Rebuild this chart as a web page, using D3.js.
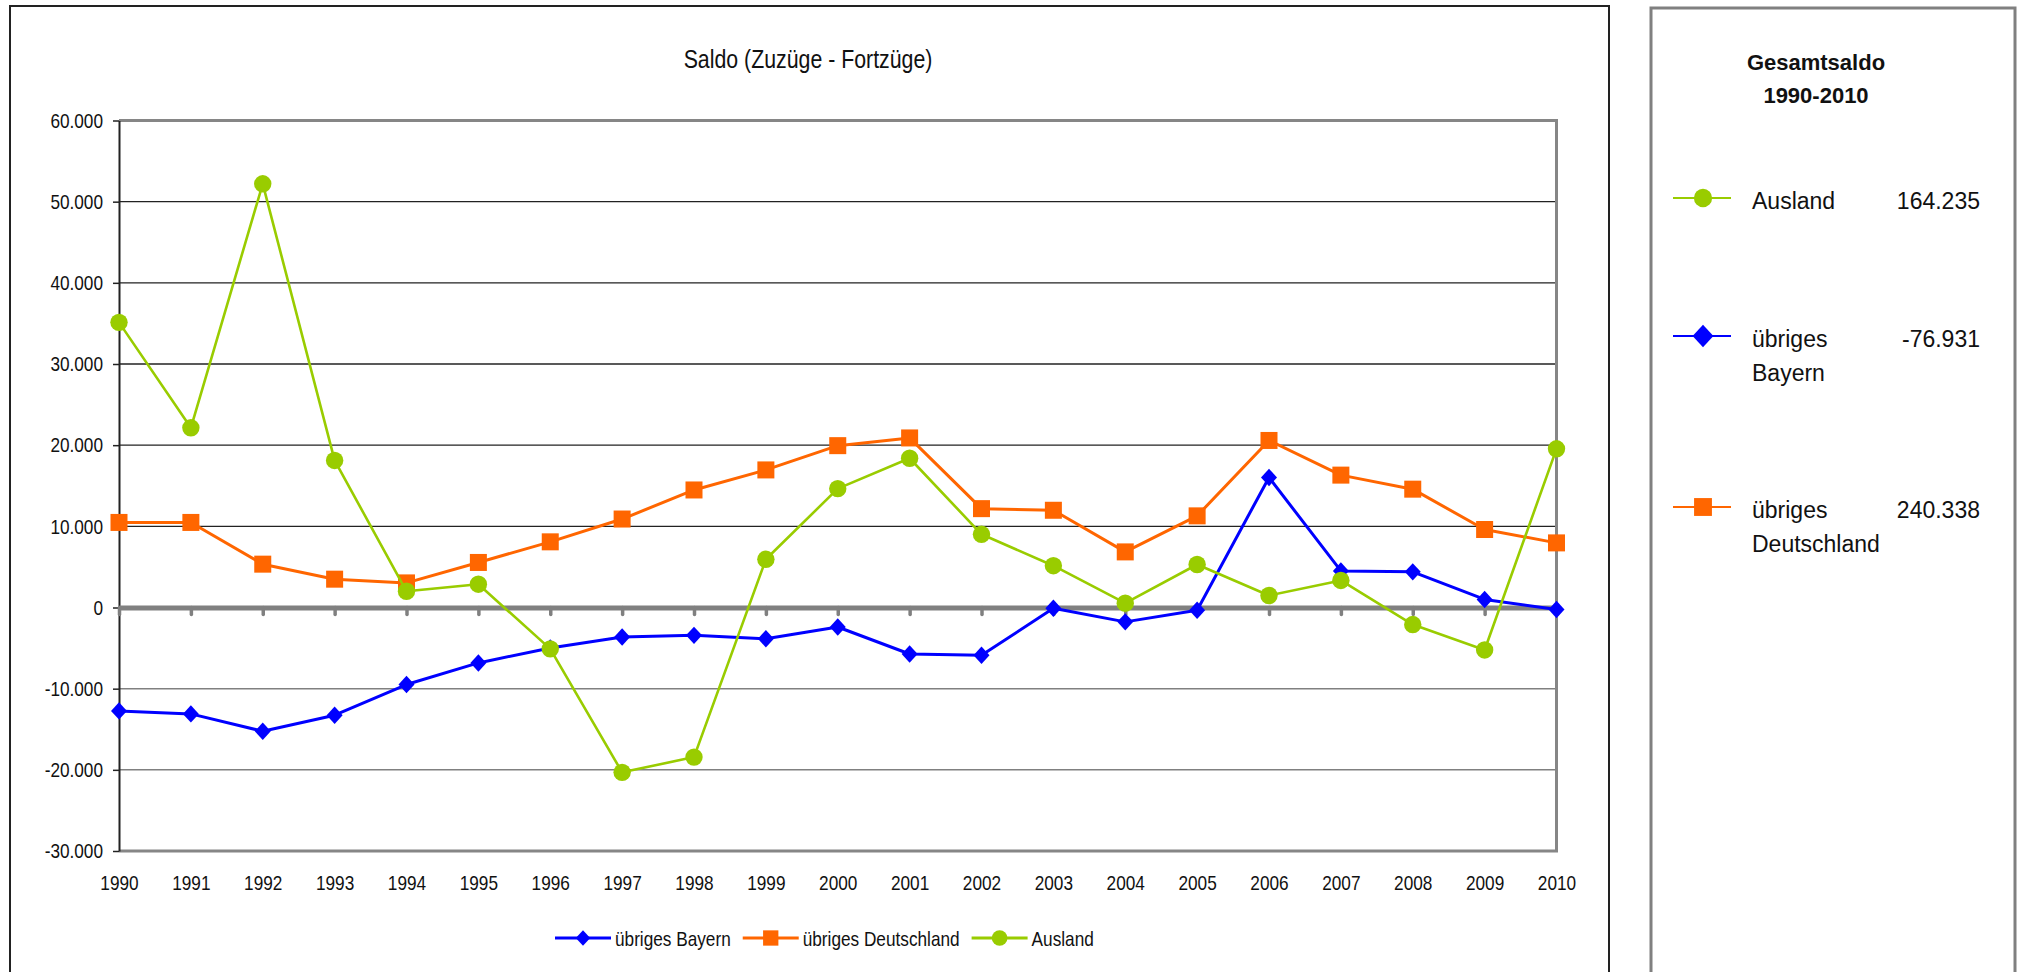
<!DOCTYPE html>
<html>
<head>
<meta charset="utf-8">
<script src="https://cdn.jsdelivr.net/npm/d3@7"></script>
<style>
  body { margin: 0; background: #fff; }
  svg { display: block; }
  text { font-family: "Liberation Sans", Arial, sans-serif; }
</style>
</head>
<body>
<script>
// Wanderungssaldo 1990-2010
const years = [1990, 1991, 1992, 1993, 1994, 1995, 1996, 1997, 1998, 1999, 2000,
     2001, 2002, 2003, 2004, 2005, 2006, 2007, 2008, 2009, 2010];

const bayern = [-12740, -13110, -15250, -13270, -9490, -6830, -4980, -3640, -3430, -3850, -2400,
     -5730, -5890, -100, -1770, -330, 16020, 4510, 4390, 990, -250];
const deutschland = [10480, 10480, 5340, 3490, 3030, 5550, 8090, 10900, 14480, 16950, 19940,
     20890, 12180, 11980, 6850, 11290, 20580, 16310, 14580, 9610, 7960];
const ausland = [35130, 22140, 52200, 18120, 2000, 2870, -5100, -20310, -18430, 5940, 14640,
     18390, 9020, 5150, 530, 5300, 1480, 3330, -2100, -5230, 19550];

const yTicks = [-30000, -20000, -10000, 0, 10000, 20000, 30000, 40000, 50000, 60000];

const seriesNames = ['übriges Bayern', 'übriges Deutschland', 'Ausland'];
const seriesColors = ['#0000ff', '#ff6600', '#99cc00'];
const seriesMarkers = ['diamond', 'square', 'circle'];

// Gesamtsaldo panel (order as shown on the right)
const totalNames = [['Ausland'], ['übriges', 'Bayern'], ['übriges', 'Deutschland']];
const totalValues = [164235, -76931, 240338];
const totalIndex = [2, 0, 1];

const de = d3.formatLocale({decimal: ',', thousands: '.', grouping: [3], currency: ['', ' €'], minus: '-'});
const fmt = de.format(',d');

// no narrow font installed, so squeeze Liberation Sans
const NARROW = 0.82;

const W = 2022, H = 972;
const svg = d3.select('body').append('svg')
    .attr('width', W)
    .attr('height', H);

// frames
svg.append('rect')
    .attr('x', 10).attr('y', 6)
    .attr('width', 1599).attr('height', 1000)
    .attr('fill', 'none')
    .attr('stroke', '#222')
    .attr('stroke-width', 2);

svg.append('rect')
    .attr('x', 1651).attr('y', 8)
    .attr('width', 364).attr('height', 1000)
    .attr('fill', 'none')
    .attr('stroke', '#808080')
    .attr('stroke-width', 3);

const x = d3.scalePoint()
    .domain(years)
    .range([119, 1556.5]);

const y = d3.scaleLinear()
    .domain([-30000, 60000])
    .range([851, 120.5]);

// title
svg.append('text')
    .attr('transform', `translate(808,68) scale(${NARROW},1)`)
    .attr('text-anchor', 'middle')
    .style('font-size', '26px')
    .attr('fill', '#111')
    .text('Saldo (Zuzüge - Fortzüge)');

// gridlines
svg.append('g').selectAll('line')
    .data(yTicks.filter(d => d != 0 && d != -30000 && d != 60000))
    .enter()
  .append('line')
    .attr('x1', x(years[0])).attr('x2', x(years[years.length - 1]))
    .attr('y1', d => y(d)).attr('y2', d => y(d))
    .attr('stroke', d => d > 0 ? '#222' : '#808080')
    .attr('stroke-width', d => d > 0 ? 1.3 : 1.5);

// plot border (top, right, bottom)
svg.append('path')
    .attr('d', `M${x(1990)},${y(60000)}H${x(2010)}V${y(-30000)}H${x(1990)}`)
    .attr('fill', 'none')
    .attr('stroke', '#868686')
    .attr('stroke-width', 3);

// y axis
const yAxis = svg.append('g')
    .attr('transform', `translate(${x(1990)},0)`)
    .call(d3.axisLeft(y).tickValues(yTicks).tickFormat(fmt).tickSize(6).tickSizeOuter(0));
yAxis.select('.domain').attr('stroke', '#222').attr('stroke-width', 2);
yAxis.selectAll('.tick line').attr('stroke', '#222').attr('stroke-width', 1.5);
yAxis.selectAll('text')
    .attr('x', -16 / NARROW)
    .attr('transform', `scale(${NARROW},1)`)
    .style('font-size', '21px')
    .attr('fill', '#111');

// x labels at the bottom
const xAxis = svg.append('g')
    .attr('transform', `translate(0,${y(-30000)})`)
    .call(d3.axisBottom(x).tickSize(0).tickPadding(24));
xAxis.select('.domain').remove();
xAxis.selectAll('text')
    .attr('transform', `scale(${NARROW},1)`)
    .style('font-size', '21px')
    .attr('fill', '#111');

// zero axis with tick marks
const zeroAxis = svg.append('g')
    .attr('transform', `translate(0,${y(0)})`)
    .call(d3.axisBottom(x).tickSize(7).tickSizeOuter(0).tickFormat(''));
zeroAxis.select('.domain').attr('stroke', '#808080').attr('stroke-width', 5);
zeroAxis.selectAll('.tick line')
    .attr('stroke', '#808080')
    .attr('stroke-width', 3.5)
    .attr('stroke-linecap', 'round');

function drawMarker(g, type, color, s) {
  if (type == 'diamond') {
    g.append('path')
        .attr('d', `M0,${-8.7 * s}L${8 * s},0L0,${8.7 * s}L${-8 * s},0Z`)
        .attr('fill', color);
  } else if (type == 'square') {
    g.append('rect')
        .attr('x', -8.5 * s).attr('y', -8.5 * s)
        .attr('width', 17 * s).attr('height', 17 * s)
        .attr('fill', color);
  } else {
    g.append('circle')
        .attr('r', 8.7 * s)
        .attr('fill', color);
  }
}

const allSeries = [bayern, deutschland, ausland];
const lineWidths = [3, 3, 2.6];

allSeries.forEach((values, i) => {
  const pts = years.map((yr, j) => [yr, values[j]]);
  svg.append('path')
      .datum(pts)
      .attr('fill', 'none')
      .attr('stroke', seriesColors[i])
      .attr('stroke-width', lineWidths[i])
      .attr('stroke-linejoin', 'round')
      .attr('d', d3.line().x(d => x(d[0])).y(d => y(d[1])));

  svg.append('g').selectAll('g')
      .data(pts)
      .enter()
    .append('g')
      .attr('transform', d => `translate(${x(d[0])},${y(d[1])})`)
      .each(function() { drawMarker(d3.select(this), seriesMarkers[i], seriesColors[i], 1); });
});

// bottom legend
let lx = 555;
const ly = 938;
seriesNames.forEach((name, i) => {
  const g = svg.append('g');
  g.append('line')
      .attr('x1', lx).attr('x2', lx + 56)
      .attr('y1', ly).attr('y2', ly)
      .attr('stroke', seriesColors[i])
      .attr('stroke-width', 3);
  drawMarker(g.append('g').attr('transform', `translate(${lx + 28},${ly})`), seriesMarkers[i], seriesColors[i], 0.9);
  const t = g.append('text')
      .attr('transform', `translate(${lx + 60},${ly + 7.5}) scale(${NARROW},1)`)
      .style('font-size', '21px')
      .attr('fill', '#111')
      .text(name);
  lx = lx + 60 + t.node().getComputedTextLength() * NARROW + 12;
});

// Gesamtsaldo panel
const panel = svg.append('g');
panel.append('text')
    .attr('x', 1816).attr('y', 70)
    .attr('text-anchor', 'middle')
    .style('font-size', '22px')
    .style('font-weight', 'bold')
    .attr('fill', '#111')
    .text('Gesamtsaldo');
panel.append('text')
    .attr('x', 1816).attr('y', 103)
    .attr('text-anchor', 'middle')
    .style('font-size', '22px')
    .style('font-weight', 'bold')
    .attr('fill', '#111')
    .text('1990-2010');

const entryY = [198, 336, 507];
totalIndex.forEach((si, k) => {
  const cy = entryY[k];
  panel.append('line')
      .attr('x1', 1673).attr('x2', 1731)
      .attr('y1', cy).attr('y2', cy)
      .attr('stroke', seriesColors[si])
      .attr('stroke-width', 2);
  drawMarker(panel.append('g').attr('transform', `translate(1703,${cy})`), seriesMarkers[si], seriesColors[si], si == 0 ? 1.3 : 1.05);
  totalNames[k].forEach((line, m) => {
    panel.append('text')
        .attr('x', 1752).attr('y', cy + 10.5 + m * 34.5)
        .style('font-size', '23px')
        .attr('fill', '#111')
        .text(line);
  });
  panel.append('text')
      .attr('x', 1980).attr('y', cy + 10.5)
      .attr('text-anchor', 'end')
      .style('font-size', '23px')
      .attr('fill', '#111')
      .text(fmt(totalValues[k]));
});
</script>
</body>
</html>
